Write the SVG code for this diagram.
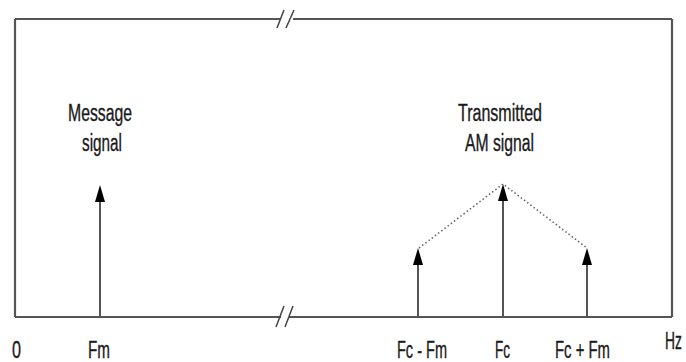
<svg xmlns="http://www.w3.org/2000/svg" width="686" height="362" viewBox="0 0 686 362">
<style>
.ax{stroke:#555;stroke-width:2.2;fill:none}
.sl{stroke:#444;stroke-width:1.5;fill:none}
.ar{stroke:#555;stroke-width:2}
.hd{fill:#000}
.dt{stroke:#666;stroke-width:1.6;stroke-dasharray:1.5 2.5;fill:none}
text{font-family:"Liberation Sans",Arial,sans-serif;font-size:23px;fill:#1a1a1a;stroke:#1a1a1a;stroke-width:0.35}
</style>
<rect width="686" height="362" fill="#fff"/>
<g id="frame">
<path class="ax" d="M15 19V317M672 19V317M15 19H281M293 19H672M15 317H281M289 317H672"/>
<path class="sl" d="M277 28L284 10M286 28L294 10M276 327L284 306M285 327L293 306"/>
</g>
<g id="connectors">
<line class="ar" x1="100" y1="317" x2="100" y2="198"/>
<line class="ar" x1="503" y1="317" x2="503" y2="198"/>
<line class="ar" x1="418" y1="317" x2="418" y2="260"/>
<line class="ar" x1="587" y1="317" x2="587" y2="260"/>
<polygon class="hd" points="100,185 95,202 105,202"/>
<polygon class="hd" points="503,184 498,201 508,201"/>
<polygon class="hd" points="418,248 413,265 423,265"/>
<polygon class="hd" points="587,248 582,265 592,265"/>
<path class="dt" d="M419 248L503 184L587 248"/>
</g>
<g id="message-label">
<text x="68" y="121" textLength="64" lengthAdjust="spacingAndGlyphs">Message</text>
<text x="82" y="151" textLength="40" lengthAdjust="spacingAndGlyphs">signal</text>
</g>
<g id="am-label">
<text x="458" y="121" textLength="84" lengthAdjust="spacingAndGlyphs">Transmitted</text>
<text x="465" y="151" textLength="69" lengthAdjust="spacingAndGlyphs">AM signal</text>
</g>
<g id="axis-labels">
<text x="12" y="358" textLength="9" lengthAdjust="spacingAndGlyphs">0</text>
<text x="88" y="358" textLength="22" lengthAdjust="spacingAndGlyphs">Fm</text>
<text x="397" y="358" textLength="50" lengthAdjust="spacingAndGlyphs">Fc - Fm</text>
<text x="495" y="358" textLength="15" lengthAdjust="spacingAndGlyphs">Fc</text>
<text x="555" y="358" textLength="55" lengthAdjust="spacingAndGlyphs">Fc + Fm</text>
<text transform="translate(665 349) scale(0.6 1)">Hz</text>
</g>
</svg>
